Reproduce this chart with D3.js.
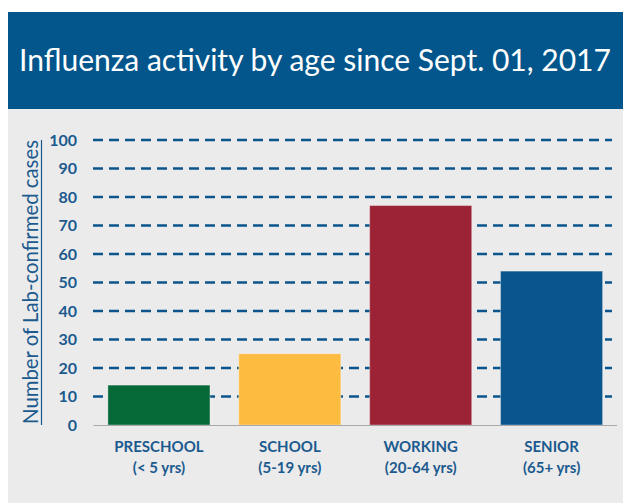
<!DOCTYPE html>
<html>
<head>
<meta charset="utf-8">
<script src="https://cdn.jsdelivr.net/npm/d3@7"></script>
<style>
  body { margin: 0; background: #fff; }
  text { font-family: "Lato", "Open Sans", sans-serif; }
</style>
</head>
<body>
<div id="chart"></div>
<script>
// data
const groups = ["PRESCHOOL", "SCHOOL", "WORKING", "SENIOR"];
const ageRanges = ["(< 5 yrs)", "(5-19 yrs)", "(20-64 yrs)", "(65+ yrs)"];
const cases = [14, 25, 77, 54];
const barColors = ["#066a38", "#fdbb40", "#9b2335", "#0a568c"];
const yTicks = [0, 10, 20, 30, 40, 50, 60, 70, 80, 90, 100];

const w = 629, h = 503;
const blue = "#1b5a8e";

const svg = d3.select("#chart").append("svg")
  .attr("width", w).attr("height", h);

// header + grey panel
svg.append("rect").attr("x", 8).attr("y", 12).attr("width", 615).attr("height", 97).attr("fill", "#03568c");
svg.append("rect").attr("x", 8).attr("y", 109).attr("width", 615).attr("height", 394).attr("fill", "#ebebeb");

const title = svg.append("text")
  .attr("x", 315).attr("y", 71)
  .attr("text-anchor", "middle")
  .attr("fill", "#fff")
  .style("font-size", "30px")
  .text("Influenza activity by age since Sept. 01, 2017");
// squeeze the title to the width it has in the picture
const tl = title.node().getComputedTextLength();
title.style("font-size", (30 * 592 / tl) + "px");

const x = d3.scaleBand().domain(groups).range([93.5, 617]).paddingInner(0.22).paddingOuter(0.11);
const y = d3.scaleLinear().domain([0, 100]).range([425, 140]);

// dashed grid lines
svg.append("g").selectAll("line")
  .data(yTicks.filter(d => d > 0))
  .join("line")
  .attr("x1", 93).attr("x2", 612)
  .attr("y1", d => y(d)).attr("y2", d => y(d))
  .attr("stroke", "#0a568c")
  .attr("stroke-width", 2.5)
  .attr("stroke-dasharray", "10,6");

// bars
svg.append("g").selectAll("rect")
  .data(cases)
  .join("rect")
  .attr("x", (d, i) => x(groups[i]))
  .attr("y", d => y(d))
  .attr("width", x.bandwidth())
  .attr("height", d => y(0) - y(d))
  .attr("fill", (d, i) => barColors[i])
  .attr("stroke", "rgba(255,255,255,0.35)")
  .attr("stroke-width", 1);

// baseline
svg.append("line")
  .attr("x1", 93.5).attr("x2", 617)
  .attr("y1", y(0) + 0.5).attr("y2", y(0) + 0.5)
  .attr("stroke", "#a9a9a9").attr("stroke-width", 1);

// y axis labels
const yAxis = d3.axisLeft(y).tickValues(yTicks).tickSize(0).tickPadding(0);
const yg = svg.append("g").attr("transform", "translate(77,0)").call(yAxis);
yg.select(".domain").remove();
yg.selectAll("text")
  .attr("fill", blue)
  .style("font-size", "16px")
  .style("font-weight", "bold")
  .style("font-family", "Lato, 'Open Sans', sans-serif");

// y axis title, underlined
const yTitle = svg.append("text")
  .attr("transform", "translate(38,282) rotate(-90)")
  .attr("text-anchor", "middle")
  .attr("fill", blue)
  .style("font-size", "19px")
  .text("Number of Lab-confirmed cases");
const yl = yTitle.node().getComputedTextLength();
yTitle.style("font-size", (19 * 284 / yl) + "px");
svg.append("line")
  .attr("x1", 41.5).attr("x2", 41.5)
  .attr("y1", 140).attr("y2", 425)
  .attr("stroke", blue).attr("stroke-width", 1.2);

// category labels
const xAxis = d3.axisBottom(x).tickSize(0).tickPadding(0);
const xg = svg.append("g").attr("transform", "translate(0,452)").call(xAxis);
xg.select(".domain").remove();
xg.selectAll("text").remove();
xg.selectAll(".tick").append("text")
  .attr("text-anchor", "middle")
  .attr("fill", blue)
  .style("font-size", "15px")
  .style("font-weight", "bold")
  .text(d => d);
xg.selectAll(".tick").append("text")
  .attr("y", 21)
  .attr("text-anchor", "middle")
  .attr("fill", blue)
  .style("font-size", "15px")
  .style("font-weight", "bold")
  .text((d, i) => ageRanges[i]);
</script>
</body>
</html>
